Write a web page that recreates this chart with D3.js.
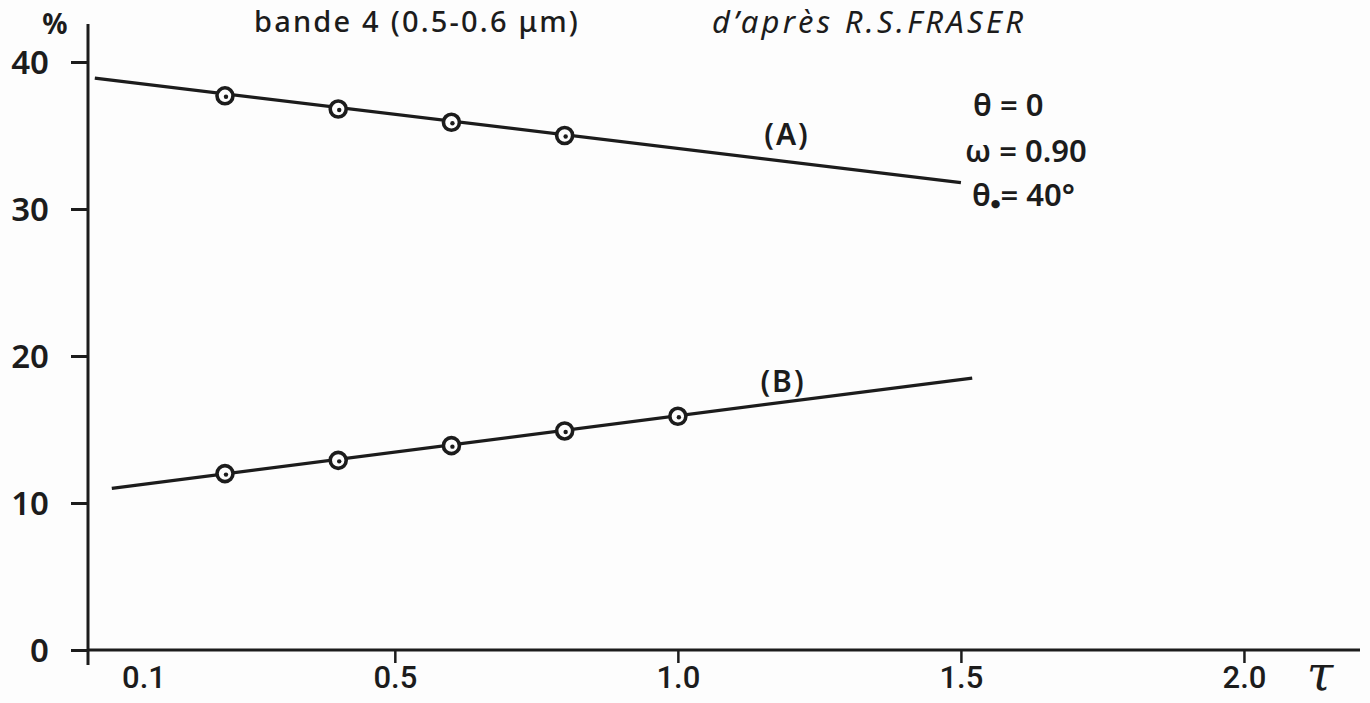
<!DOCTYPE html>
<html>
<head>
<meta charset="utf-8">
<script src="https://cdn.jsdelivr.net/npm/d3@7"></script>
<style>
  body { margin: 0; background: #fdfdfd; }
  svg { display: block; }
  text { font-family: "Noto Sans", "DejaVu Sans", sans-serif; fill: #1c1c1c; }
</style>
</head>
<body>
<div id="chart"></div>
<script>
// optical depth tau of the measured points
const tauA = [0.2, 0.4, 0.6, 0.8];
const tauB = [0.2, 0.4, 0.6, 0.8, 1.0];
// reflectance (%)
const valuesA = [37.7, 36.8, 35.9, 35.0];
const valuesB = [12.0, 12.9, 13.9, 14.9, 15.9];
// drawn straight lines (tau, %)
const fitA = [[-0.03, 38.9], [1.5, 31.8]];
const fitB = [[0.0, 11.0], [1.52, 18.5]];

const yTicks = [0, 10, 20, 30, 40];
const xTicks = [0.5, 1.0, 1.5, 2.0];
const xTickLabels = ['0.5', '1.0', '1.5', '2.0'];
const originLabel = '0.1';

const width = 1370, height = 703;
const svg = d3.select('#chart').append('svg').attr('width', width).attr('height', height);

const x = d3.scaleLinear().domain([-0.042, 2.205]).range([88, 1360]);
const y = d3.scaleLinear().domain([0, 40]).range([650, 62]);
const ink = '#1c1c1c';

// y axis
const gy = svg.append('g').attr('transform', `translate(${x.range()[0]},0)`)
    .call(d3.axisLeft(y).tickValues(yTicks).tickSize(17).tickPadding(22).tickSizeOuter(0));
gy.select('.domain').remove();
gy.selectAll('line').attr('stroke', ink).attr('stroke-width', 3);
gy.selectAll('text').style('font-size', '33px').style('font-weight', 600).attr('dy', '0.36em');
svg.append('line').attr('x1', x.range()[0]).attr('x2', x.range()[0]).attr('y1', 24).attr('y2', 665)
    .attr('stroke', ink).attr('stroke-width', 3);

// x axis
const gx = svg.append('g').attr('transform', `translate(0,${y(0)})`)
    .call(d3.axisBottom(x).tickValues(xTicks).tickSize(13).tickPadding(3).tickSizeOuter(0)
        .tickFormat((d, i) => xTickLabels[i]));
gx.select('.domain').remove();
gx.selectAll('line').attr('stroke', ink).attr('stroke-width', 2.5);
gx.selectAll('text').style('font-size', '31px').style('font-weight', 500).style('font-family', 'Roboto, sans-serif');
svg.append('line').attr('x1', x.range()[0]).attr('x2', x.range()[1]).attr('y1', y(0)).attr('y2', y(0))
    .attr('stroke', ink).attr('stroke-width', 3);
svg.append('text').attr('x', x.range()[0] + 56).attr('y', y(0) + 16).attr('dy', '0.71em')
    .attr('text-anchor', 'middle').style('font-size', '31px').style('font-weight', 500)
    .style('font-family', 'Roboto, sans-serif').text(originLabel);
svg.append('text').attr('x', 1320).attr('y', 690).attr('text-anchor', 'middle')
    .style('font-size', '48px').style('font-style', 'italic').style('font-family', '"DejaVu Serif", serif')
    .text('τ');
svg.append('text').attr('x', 55).attr('y', 34).attr('text-anchor', 'middle')
    .style('font-size', '28px').style('font-weight', 700).text('%');

// fitted lines
const line = d3.line().x(d => x(d[0])).y(d => y(d[1]));
[fitA, fitB].forEach(f => {
    svg.append('path').attr('d', line(f)).attr('fill', 'none').attr('stroke', ink).attr('stroke-width', 3.2);
});

// measured points
function points(taus, vals) {
    const g = svg.append('g');
    g.selectAll('circle.pt').data(taus).enter().append('circle').attr('class', 'pt')
        .attr('cx', d => x(d)).attr('cy', (d, i) => y(vals[i])).attr('r', 8)
        .attr('fill', '#fdfdfd').attr('stroke', ink).attr('stroke-width', 3.6);
    g.selectAll('circle.dot').data(taus).enter().append('circle').attr('class', 'dot')
        .attr('cx', d => x(d) + 1).attr('cy', (d, i) => y(vals[i]) + 1).attr('r', 2.2).attr('fill', ink);
}
points(tauA, valuesA);
points(tauB, valuesB);

// labels
svg.append('text').attr('x', 787).attr('y', 145).attr('text-anchor', 'middle')
    .style('font-size', '30px').style('font-weight', 600).style('letter-spacing', '2px').text('(A)');
svg.append('text').attr('x', 783).attr('y', 392).attr('text-anchor', 'middle')
    .style('font-size', '30px').style('font-weight', 600).style('letter-spacing', '2px').text('(B)');

svg.append('text').attr('x', 254).attr('y', 32).style('font-size', '29px').style('font-weight', 500)
    .style('letter-spacing', '2.2px').text('bande 4 (0.5-0.6 μm)');
svg.append('text').attr('x', 712).attr('y', 33).style('font-size', '31px').style('font-style', 'italic')
    .style('letter-spacing', '3.3px').text('d’après R.S.FRASER');

const notes = svg.append('g').style('font-size', '31px').style('font-weight', 600);
notes.append('text').attr('x', 973).attr('y', 116).text('θ = 0');
notes.append('text').attr('x', 965).attr('y', 162).text('ω = 0.90');
const t3 = notes.append('text').attr('x', 972).attr('y', 206);
t3.append('tspan').text('θ');
t3.append('tspan').style('font-size', '11px').attr('dy', 1).text('●');
t3.append('tspan').attr('dy', -1).text('= 40°');
</script>
</body>
</html>
